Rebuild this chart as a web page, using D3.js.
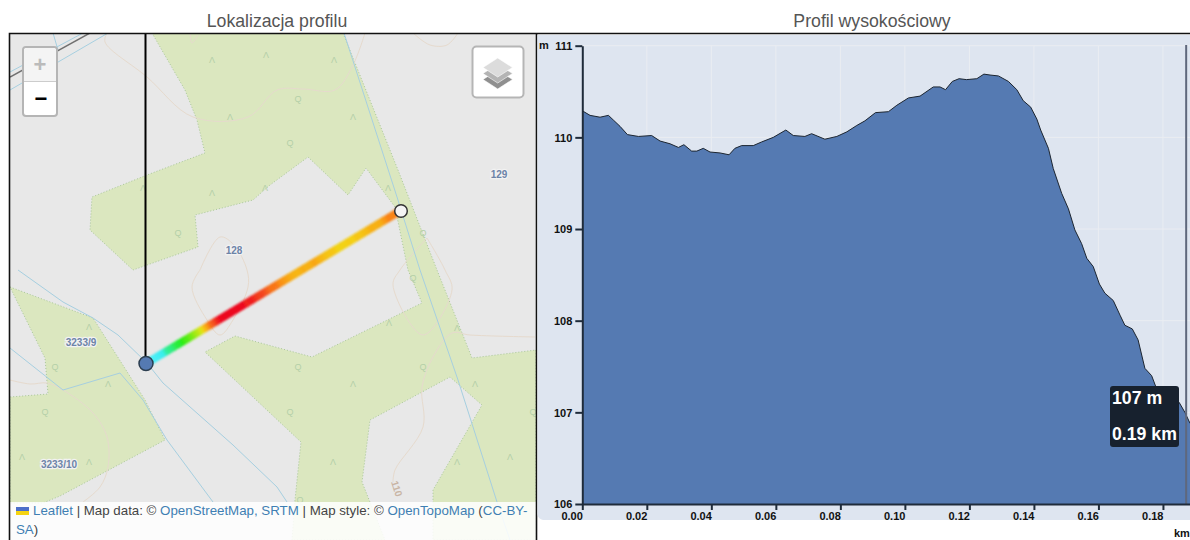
<!DOCTYPE html>
<html><head><meta charset="utf-8">
<script src="https://cdn.jsdelivr.net/npm/d3@7"></script>
<style>
html,body{margin:0;padding:0;background:#fff;overflow:hidden}
svg{position:absolute;left:0;top:0;font-family:"Liberation Sans",Arial,sans-serif}
</style></head><body>
<svg id="c" width="1190" height="540"></svg>
<script>
// ---- elevation profile data ----
const profileKm=[0,.0024,.0055,.0081,.0096,.0117,.0140,.0174,.0215,.0241,.0272,.0298,.0315,.0339,.0355,.0375,.0396,.0427,.0455,.0473,.0494,.0530,.0556,.0592,.0631,.0654,.0690,.0711,.0752,.0789,.0820,.0851,.0876,.0909,.0949,.0975,.1011,.1047,.1088,.1109,.1126,.1147,.1168,.1191,.1223,.1245,.1264,.1290,.1321,.1347,.1367,.1390,.1409,.1421,.1445,.1460,.1486,.1507,.1527,.1548,.1564,.1584,.1603,.1620,.1646,.1667,.1682,.1705,.1723,.1744,.1765,.1780,.1800,.1850,.1868,.1884];
const profileM=[110.29,110.24,110.22,110.24,110.19,110.12,110.03,110.01,110.02,109.96,109.93,109.89,109.92,109.85,109.85,109.88,109.84,109.83,109.81,109.88,109.91,109.91,109.95,110.00,110.08,110.02,110.01,110.04,109.98,110.01,110.06,110.13,110.18,110.27,110.28,110.35,110.43,110.45,110.55,110.55,110.52,110.61,110.64,110.63,110.64,110.69,110.68,110.67,110.61,110.52,110.40,110.33,110.20,110.08,109.88,109.66,109.39,109.22,108.99,108.84,108.68,108.59,108.40,108.30,108.22,108.06,107.95,107.91,107.79,107.48,107.40,107.26,107.20,107.11,107.00,106.88];
const xTicks=[0,.02,.04,.06,.08,.10,.12,.14,.16,.18];
const yTicks=[106,107,108,109,110,111];
const titles=["Lokalizacja profilu","Profil wysokościowy"];
const tooltipLines=["107 m","0.19 km"];
const hoverKm=.1872;
// hotline colours by elevation
const hotM=[106.9,107.5,108.4,109.6,109.85,110.2,110.55];
const hotC=["#55eeff","#33eeee","#22ee11","#d8e810","#f5d010","#fb8a12","#f01818"];
// ---- map geometry (map pixels) ----
const greenAreas=[
[[152,33],[185,90],[197,120],[205,153],[147,175],[92,197],[90,230],[133,270],[198,247],[195,215],[253,200],[270,185],[308,157],[348,195],[366,168],[395,207],[408,270],[422,303],[312,357],[235,336],[205,352],[270,413],[301,442],[295,500],[292,540],[385,540],[362,482],[370,420],[450,377],[482,405],[433,490],[433,540],[536,540],[536,467],[536,350],[472,358],[437,270],[398,170],[343,33]],
[[10,287],[93,318],[145,400],[165,440],[60,496],[43,503],[10,503],[10,397],[48,394],[45,358]]
];
const streams=[
[[344,33],[397,197],[420,270],[458,380],[497,502],[510,540]],
[[18,270],[63,302],[93,318],[118,335],[147,363],[163,383],[233,445],[277,487],[287,502]],
[[10,348],[63,390],[120,373],[143,400],[167,440],[213,502]],
[[10,72],[83,33]],[[10,90],[108,33]],[[53,33],[58,50]]
];
const roads=[[[10,77],[90,33]]];
const contours=[
[[107,33],[105,42],[147,77],[193,117],[248,117],[277,90],[303,89],[335,90],[353,65],[365,33]],
[[413,33],[430,45],[447,45],[458,33]],
[[190,33],[192,43],[198,35]],
[[200,270],[220,237],[234,245],[247,270],[248,287],[233,320],[220,335],[207,320],[192,287],[200,270]],
[[427,238],[400,270],[393,285],[423,335],[452,290],[445,270],[427,238]],
[[535,337],[470,335],[452,333],[433,357],[422,387],[423,427],[395,470],[393,482]],
[[10,380],[30,384],[47,383],[63,390],[93,413],[107,437],[108,467],[100,487],[83,502]]
];
const treeA=[[212,60],[266,55],[230,117],[212,193],[265,188],[143,188],[334,60],[353,117],[388,188],[89,327],[108,384],[22,457],[89,462],[389,323],[457,328],[353,384],[475,384],[333,462],[457,462],[510,457]];
const treeQ=[[298,99],[290,143],[178,233],[423,233],[55,367],[45,412],[298,367],[423,367],[290,412],[533,412],[300,500],[413,278]];
const mapLabels=[["128",234,250],["129",499,174],["3233/9",81,342],["3233/10",59,464]];
const attrib=[["Leaflet",1],[" | Map data: © ",0],["OpenStreetMap, SRTM",1],[" | Map style: © ",0],["OpenTopoMap",1],[" (",0],["CC-BY-",1]];

const svg=d3.select("#c");
const defs=svg.append("defs");
defs.append("clipPath").attr("id","mapClip").append("rect").attr("x",10).attr("y",34).attr("width",526).attr("height",506);
defs.append("filter").attr("id","soft").append("feGaussianBlur").attr("stdDeviation",.8);

// titles
svg.selectAll("text.title").data(titles).join("text").attr("class","title")
 .attr("x",(d,i)=>[277,872][i]).attr("y",27).attr("text-anchor","middle")
 .attr("font-size",17.7).attr("fill","#555").text(d=>d);

// ===== MAP =====
const mx=d3.scaleIdentity(), my=d3.scaleIdentity();
const line=d3.line().x(d=>mx(d[0])).y(d=>my(d[1]));
const smooth=d3.line().x(d=>mx(d[0])).y(d=>my(d[1])).curve(d3.curveCatmullRom);
const map=svg.append("g").attr("clip-path","url(#mapClip)");
map.append("rect").attr("x",10).attr("y",34).attr("width",526).attr("height",506).attr("fill","#e8e8e8");
map.selectAll("path.g").data(greenAreas).join("path").attr("class","g")
 .attr("d",d=>line(d)+"Z").attr("fill","#dbe7bf").attr("stroke","#a9c79a").attr("stroke-width",1).attr("stroke-dasharray","1 2");
map.selectAll("path.c").data(contours).join("path").attr("class","c").attr("d",smooth)
 .attr("fill","none").attr("stroke","#e6dacd").attr("stroke-width",1);
map.selectAll("path.s").data(streams).join("path").attr("class","s").attr("d",line)
 .attr("fill","none").attr("stroke","#a6cfe0").attr("stroke-width",1);
map.selectAll("path.r").data(roads).join("path").attr("class","r").attr("d",line)
 .attr("fill","none").attr("stroke","#707070").attr("stroke-width",1.5);
map.selectAll("text.a").data(treeA).join("text").attr("class","a").attr("x",d=>mx(d[0])).attr("y",d=>my(d[1])+3)
 .attr("text-anchor","middle").attr("font-size",9).attr("fill","#b4cfa8").text("Λ");
map.selectAll("text.q").data(treeQ).join("text").attr("class","q").attr("x",d=>mx(d[0])).attr("y",d=>my(d[1])+3)
 .attr("text-anchor","middle").attr("font-size",9).attr("fill","#b4cfa8").text("Q");
map.append("text").attr("transform","translate(391,482) rotate(72)").attr("font-size",10).attr("fill","#c8b4a4").attr("font-weight","bold").text("110");
map.selectAll("text.l").data(mapLabels).join("text").attr("class","l").attr("x",d=>d[1]).attr("y",d=>d[2]+3.5)
 .attr("text-anchor","middle").attr("font-size",10).attr("font-weight","bold").attr("fill","#6d84a8")
 .attr("stroke","#f2f2f2").attr("stroke-width",2.5).attr("paint-order","stroke").text(d=>d[0]);

// hotline: km 0 sits at the white marker, the last km at the blue one
const hotX=d3.scaleLinear().domain([0,hoverKm]).range([400,146]);
const hotY=d3.scaleLinear().domain([0,hoverKm]).range([211,363.5]);
const elev=d3.scaleLinear().domain(profileKm).range(profileM);
const hotColor=d3.scaleLinear().domain(hotM).range(hotC);
const hot=map.append("g").attr("filter","url(#soft)");
hot.selectAll("line").data(d3.range(0,hoverKm,.001)).join("line")
 .attr("x1",d=>hotX(d)).attr("y1",d=>hotY(d)).attr("x2",d=>hotX(d+.0012)).attr("y2",d=>hotY(d+.0012))
 .attr("stroke",d=>hotColor(elev(d))).attr("stroke-width",8);

// hover line & markers
map.append("line").attr("x1",145.5).attr("x2",145.5).attr("y1",34).attr("y2",363).attr("stroke","#000").attr("stroke-width",2);
map.append("circle").attr("cx",hotX(0)+1).attr("cy",hotY(0)).attr("r",6.3).attr("fill","#f4f4f4").attr("stroke","#333").attr("stroke-width",1.5);
map.append("circle").attr("cx",hotX(hoverKm)).attr("cy",hotY(hoverKm)).attr("r",7).attr("fill","#557ab2").attr("stroke","#2c3e50").attr("stroke-width",1.5);

// attribution
map.append("rect").attr("x",10).attr("y",502).attr("width",526).attr("height",38).attr("fill","#fff").attr("fill-opacity",.86);
map.append("rect").attr("x",16).attr("y",507).attr("width",13).attr("height",4).attr("fill","#4d6fc9");
map.append("rect").attr("x",16).attr("y",511).attr("width",13).attr("height",4).attr("fill","#f5d312");
const at=map.append("text").attr("x",33).attr("y",515).attr("font-size",13.3).attr("xml:space","preserve");
at.selectAll("tspan").data(attrib).join("tspan").attr("fill",d=>d[1]?"#3f7fb3":"#444").text(d=>d[0]);
const at2=map.append("text").attr("x",16).attr("y",534).attr("font-size",13.3);
at2.append("tspan").attr("fill","#3f7fb3").text("SA");
at2.append("tspan").attr("fill","#444").text(")");

// zoom control
const zc=svg.append("g");
zc.append("rect").attr("x",23).attr("y",47).attr("width",34).attr("height",69).attr("rx",3).attr("fill","#fff").attr("stroke","#b5b5b5").attr("stroke-width",2);
zc.append("path").attr("d","M24 81V51a3 3 0 0 1 3-3H53a3 3 0 0 1 3 3V81Z").attr("fill","#f4f4f4");
zc.append("line").attr("x1",24).attr("x2",56).attr("y1",81.5).attr("y2",81.5).attr("stroke","#ccc");
zc.append("text").attr("x",40).attr("y",72).attr("text-anchor","middle").attr("font-size",22).attr("font-weight","bold").attr("fill","#bbb").text("+");
zc.append("text").attr("x",41).attr("y",106).attr("text-anchor","middle").attr("font-size",22).attr("font-weight","bold").attr("fill","#000").text("−");
// layers control
const lc=svg.append("g");
lc.append("rect").attr("x",472.5).attr("y",46.5).attr("width",51).attr("height",51).attr("rx",4).attr("fill","#fff").attr("stroke","#b5b5b5").attr("stroke-width",2);
[[12,"#8f8f8f"],[6,"#b4b4b4"],[0,"#dcdcdc"]].forEach(([o,c])=>{
 lc.append("polygon").attr("points",`497.7,${58+o} 512.5,${67.5+o} 497.7,${77+o} 483,${67.5+o}`).attr("fill",c).attr("stroke","#fff").attr("stroke-width",.6);
});

// map frame
svg.append("path").attr("d","M9.5 540V33.5H1190M536.5 33.5V540").attr("fill","none").attr("stroke","#111").attr("stroke-width",1.6);

// ===== PROFILE =====
const x=d3.scaleLinear().domain([0,.19]).range([582.3,1195.2]);
const y=d3.scaleLinear().domain([106,111]).range([504,45.7]);
svg.append("path").attr("d","M537.5 35H1190V520H543a6 6 0 0 1-5.5-6Z").attr("fill","#dee5f0");
const gridG=svg.append("g");
gridG.selectAll("line.h").data(yTicks).join("line").attr("class","h").attr("x1",582).attr("x2",1190).attr("y1",d=>y(d)).attr("y2",d=>y(d)).attr("stroke","#eaedf2").attr("stroke-width",1);
gridG.selectAll("line.v").data(xTicks.slice(1)).join("line").attr("class","v").attr("x1",d=>x(d)).attr("x2",d=>x(d)).attr("y1",y(111)).attr("y2",y(106)).attr("stroke","#eaedf2").attr("stroke-width",1);
const pts=profileKm.map((k,i)=>[k,profileM[i]]);
svg.append("path").datum(pts).attr("d",d3.area().x(d=>x(d[0])).y0(y(106)).y1(d=>y(d[1]))).attr("fill","#557ab2");
svg.append("path").datum(pts).attr("d",d3.line().x(d=>x(d[0])).y(d=>y(d[1]))).attr("fill","none").attr("stroke","#1c2530").attr("stroke-width",1);

// hover line
svg.append("line").attr("x1",x(hoverKm)).attr("x2",x(hoverKm)).attr("y1",45).attr("y2",y(106)).attr("stroke","#5f687c").attr("stroke-width",2);

// axes
const ax=svg.append("g").attr("transform",`translate(0,${y(106)})`).call(d3.axisBottom(x).tickValues(xTicks).tickFormat(d3.format(".2f")).tickSize(6).tickSizeOuter(0));
const ay=svg.append("g").attr("transform","translate(582.3,0)").call(d3.axisLeft(y).tickValues(yTicks).tickFormat(d3.format("d")).tickSize(7).tickSizeOuter(0));
[ax,ay].forEach(a=>{
 a.select(".domain").attr("stroke","#1f2b3a").attr("stroke-width",2);
 a.selectAll(".tick line").attr("stroke","#1f2b3a").attr("stroke-width",2);
 a.selectAll("text").attr("font-family","'Liberation Sans',Arial,sans-serif").attr("font-size",11).attr("font-weight","bold").attr("fill","#111");
});
ax.selectAll("text").attr("text-anchor","end").attr("x",0).attr("y",8).attr("dy",".71em");
ay.selectAll("text").attr("x",-10).attr("dy",".35em");
svg.append("text").attr("x",539).attr("y",49).attr("font-size",11).attr("font-weight","bold").attr("fill","#111").text("m");
svg.append("text").attr("x",1174).attr("y",537).attr("font-size",11).attr("font-weight","bold").attr("fill","#111").text("km");

// tooltip
svg.append("rect").attr("x",1110).attr("y",386).attr("width",69).attr("height",61).attr("rx",3).attr("fill","#17212e");
svg.selectAll("text.tip").data(tooltipLines).join("text").attr("class","tip").attr("x",1112).attr("y",(d,i)=>[404,440][i])
 .attr("font-size",17.7).attr("font-weight","bold").attr("fill","#fff").text(d=>d);
</script></body></html>
